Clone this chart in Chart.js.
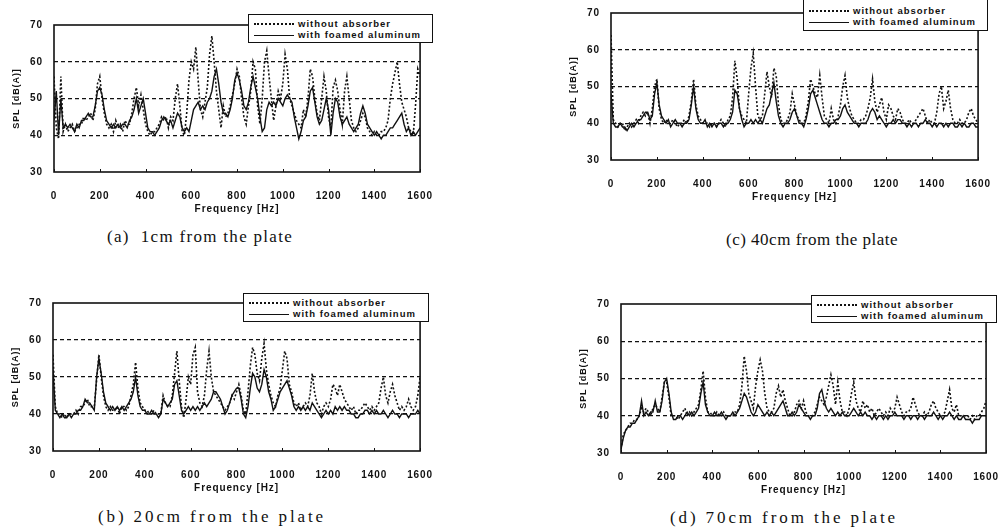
<!DOCTYPE html>
<html>
<head>
<meta charset="utf-8">
<script src="https://cdn.jsdelivr.net/npm/chart.js@4.4.1/dist/chart.umd.min.js"></script>
<style>
  body { margin: 0; width: 1005px; height: 532px; background: #fff; position: relative; overflow: hidden; }
  canvas { position: absolute; }
  .leg { position: absolute; border: 1.5px solid #111; background: #fff; box-sizing: border-box;
         font: bold 9.5px "Liberation Sans", Arial, sans-serif; letter-spacing: 1px; color: #111; }
  .row { position: absolute; left: 5px; height: 11px; line-height: 11px; white-space: nowrap; }
  .sw { display: inline-block; width: 40px; margin-right: 4px; vertical-align: middle; }
  .sw.dot { border-top: 2px dotted #111; }
  .sw.solid { border-top: 1.4px solid #111; }
  .cap { position: absolute; width: 360px; text-align: center; white-space: pre;
         font-family: "Liberation Serif", "Times New Roman", serif; color: #111; }
</style>
</head>
<body>
<script>
// frequency grid of the read-off spectra (Hz), 10 Hz apart
const freqs = Array.from({ length: 161 }, (_, i) => i * 10);
const xTicks = [0, 200, 400, 600, 800, 1000, 1200, 1400, 1600];
const yTicks = [30, 40, 50, 60, 70];
const seriesNames = ['without absorber', 'with foamed aluminum'];
const captions = ['(a)  1cm from the plate', '(b) 20cm from the plate', '(c) 40cm from the plate', '(d) 70cm from the plate'];

// (a) 1cm
const a_without = [
  56,42,39,56,41,43,41,42,43,41, 42,43,43,45,44,45,46,44,47,54,
  56,50,46,43,42,43,41,44,42,43, 41,44,43,43,46,50,53,48,51,47,
  43,41,40,41,41,42,43,45,44,45, 42,45,44,50,54,48,41,40,46,55,
  60,58,64,55,47,45,49,53,62,67, 60,52,47,42,48,45,46,48,51,54,
  58,56,50,45,43,48,52,60,58,48, 43,50,60,63,56,50,44,48,52,50,
  54,62,58,50,48,46,44,43,42,47, 45,50,58,56,50,46,44,50,56,52,
  45,42,53,55,52,47,43,52,56,50, 44,42,41,42,44,46,45,42,41,40,
  41,40,40,41,41,42,44,50,54,57, 60,54,49,47,45,42,41,40,48,58,
  56];
const a_with = [
  44,52,40,50,42,43,42,43,42,41, 43,42,44,44,45,46,45,45,48,52,
  53,51,47,44,43,42,43,42,43,42, 43,43,42,44,45,47,50,46,48,50,
  46,42,41,41,40,41,42,44,45,44, 43,44,42,44,46,45,42,41,42,41,
  44,47,48,49,47,48,47,49,50,52, 56,58,54,49,46,46,45,47,50,55,
  57,55,52,48,47,49,53,56,53,50, 45,41,42,47,49,48,49,48,50,49,
  48,50,51,50,49,45,42,39,41,44, 45,48,52,53,49,45,43,44,47,50,
  47,40,46,50,49,45,43,44,45,43, 42,41,42,43,46,48,46,43,42,41,
  40,41,40,39,40,40,41,42,42,43, 44,45,46,43,41,42,40,41,40,41,
  42];

// (b) 20cm
const b_without = [
  56,42,40,40,39,40,39,40,40,40, 41,40,42,42,43,44,42,42,42,49,
  56,50,45,42,41,42,41,41,42,40, 42,42,41,42,45,48,54,47,43,42,
  41,41,40,40,41,40,40,40,45,43, 42,42,45,51,57,49,42,39,44,50,
  48,56,58,46,43,42,45,52,57,50, 46,45,44,43,42,41,42,43,45,44,
  46,48,45,41,40,46,53,58,56,51, 49,55,59,52,48,45,43,42,45,47,
  52,57,55,48,46,43,42,43,41,42, 43,42,45,51,46,43,42,40,42,43,
  42,44,48,47,45,48,46,44,43,42, 41,42,40,41,41,42,43,42,41,42,
  41,42,43,47,50,45,43,46,48,45, 43,41,42,41,42,44,42,41,42,45,
  50];
const b_with = [
  52,41,40,39,40,39,39,40,39,40, 40,41,41,42,44,43,43,42,41,50,
  55,51,46,43,42,41,42,41,42,41, 42,41,42,43,44,46,50,45,42,41,
  41,40,40,41,40,40,39,40,44,43, 42,43,44,48,49,45,41,40,41,42,
  41,42,41,42,41,42,43,42,43,44, 46,46,45,44,42,40,41,43,45,46,
  47,47,44,40,39,42,47,51,50,47, 46,48,52,50,46,44,41,42,44,46,
  47,48,49,47,45,42,41,42,41,42, 41,42,41,43,42,41,40,39,40,41,
  40,41,40,42,41,42,41,42,41,41, 40,40,39,39,40,40,41,41,40,41,
  40,41,40,40,41,40,39,40,41,40, 40,39,40,40,40,39,40,40,40,41,
  40];

// (c) 40cm
const c_without = [
  64,41,40,39,40,40,38,39,40,39, 40,41,40,42,43,42,43,40,44,50,
  52,44,41,40,41,40,40,41,40,39, 40,40,41,40,42,46,52,45,42,41,
  40,40,40,39,40,40,39,40,41,40, 39,41,42,47,57,52,44,42,41,40,
  48,55,59,50,42,41,42,48,54,50, 47,55,53,45,41,40,40,41,43,48,
  45,42,41,40,40,42,46,52,50,48, 47,53,47,42,41,40,44,41,40,42,
  45,50,53,47,44,42,41,40,40,41, 41,42,44,47,52,46,43,45,47,43,
  41,45,44,42,41,44,43,41,40,40, 41,40,40,41,42,43,44,42,40,41,
  40,40,43,48,50,44,46,49,44,41, 40,40,41,40,40,41,43,44,42,41,
  40];
const c_with = [
  48,40,39,39,40,39,39,38,39,40, 39,40,41,41,42,43,43,41,42,48,
  51,45,42,41,40,41,39,40,41,40, 40,39,40,40,41,45,50,44,41,40,
  40,41,39,40,39,40,39,40,40,39, 40,40,41,43,49,48,44,41,39,40,
  40,41,40,41,40,41,40,42,44,45, 48,51,46,42,40,39,40,40,41,43,
  44,42,40,40,39,41,44,48,49,47, 45,43,41,40,40,39,40,40,41,41,
  42,44,45,43,42,41,40,40,39,40, 40,40,41,43,44,43,41,42,41,40,
  39,40,40,41,40,41,41,40,40,39, 40,39,40,40,39,40,40,41,40,40,
  39,40,39,40,40,39,40,39,40,40, 39,39,40,39,40,39,39,40,40,39,
  39];

// (d) 70cm
const d_without = [
  31,35,36,37,38,38,39,39,40,42, 41,42,41,40,42,43,42,41,45,49,
  49,45,40,40,40,39,40,41,42,40, 41,40,41,42,43,47,52,45,41,41,
  40,40,41,40,40,41,40,40,40,40, 41,41,43,48,56,52,46,44,42,48,
  52,55,52,46,42,41,41,42,46,48, 45,47,44,42,40,40,41,43,44,42,
  44,41,40,40,40,41,43,45,44,43, 45,48,51,48,43,49,44,41,41,40,
  42,46,49,44,42,41,44,42,43,41, 42,40,41,42,41,40,41,40,42,41,
  42,45,43,41,40,41,41,42,45,43, 41,40,40,41,40,41,43,44,42,41,
  40,40,41,44,47,42,41,43,40,40, 40,40,40,39,40,39,40,40,41,42,
  44];
const d_with = [
  31,34,36,37,37,38,38,39,40,44, 40,41,40,41,41,44,41,41,44,49,
  50,46,41,39,39,40,40,39,40,41, 40,41,40,41,42,46,49,43,41,40,
  40,41,40,40,41,40,39,40,40,41, 40,41,42,44,46,45,43,41,40,41,
  43,42,41,40,41,40,41,40,41,42, 43,44,42,40,40,41,40,41,43,42,
  41,40,40,39,40,40,42,46,47,44, 42,41,42,41,40,41,40,41,40,40,
  40,41,42,41,40,41,40,41,40,40, 39,40,39,40,40,39,40,39,40,40,
  41,40,40,40,39,40,40,39,40,40, 39,40,40,39,40,40,40,41,40,39,
  40,39,40,40,41,40,39,40,39,39, 40,39,39,39,38,39,39,39,40,40,
  40];

// plot-area rectangles, legend boxes and caption placement, in page pixels
const panels = [
  { without: a_without, withAl: a_with, L: 54,  T: 25,  R: 423, B: 172, leg: [248, 14, 185, 29], cap: [0, 200, 238, 17, 1.3] },
  { without: b_without, withAl: b_with, L: 53,  T: 303, R: 423, B: 451, leg: [243, 293, 186, 29], cap: [1, 212, 518, 17, 2.9] },
  { without: c_without, withAl: c_with, L: 611, T: 13,  R: 981, B: 160, leg: [803, -1, 185, 32], cap: [2, 812, 241, 17, 0.5] },
  { without: d_without, withAl: d_with, L: 621, T: 304, R: 989, B: 453, leg: [811, 295, 186, 28], cap: [3, 784, 519, 17, 2.9] }
];

const INK = '#111';
const AXW = 54, PADT = 25, PADR = 20, XH = 50;
const FONT = '"Liberation Sans", Arial, sans-serif';

const frame = {
  id: 'frame',
  beforeUpdate(chart) { chart.ctx.letterSpacing = '0.9px'; },
  beforeDraw(chart) { chart.ctx.letterSpacing = '0.9px'; },
  afterDraw(chart) {
    const { ctx, chartArea: a } = chart;
    const x = chart.scales.x;
    ctx.save();
    ctx.strokeStyle = INK;
    ctx.lineWidth = 1.6;
    ctx.strokeRect(a.left, a.top, a.right - a.left, a.bottom - a.top);
    ctx.lineWidth = 1;
    xTicks.forEach(v => {
      const px = Math.round(x.getPixelForValue(v)) + 0.5;
      ctx.beginPath();
      ctx.moveTo(px, a.bottom);
      ctx.lineTo(px, a.bottom - 3);
      ctx.stroke();
    });
    ctx.restore();
  }
};

function pts(vals) {
  return freqs.map((f, i) => ({ x: f, y: vals[i] }));
}

panels.forEach(p => {
  const cv = document.createElement('canvas');
  const w = (p.R - p.L) + AXW + PADR;
  const h = (p.B - p.T) + PADT + XH;
  cv.width = w;
  cv.height = h;
  cv.style.left = (p.L - AXW) + 'px';
  cv.style.top = (p.T - PADT) + 'px';
  cv.style.width = w + 'px';
  cv.style.height = h + 'px';
  document.body.appendChild(cv);

  new Chart(cv.getContext('2d'), {
    type: 'line',
    data: {
      datasets: [
        { label: seriesNames[0], data: pts(p.without), borderColor: INK, borderWidth: 1.6, borderDash: [2, 2], pointRadius: 0, tension: 0 },
        { label: seriesNames[1], data: pts(p.withAl), borderColor: INK, borderWidth: 1.4, pointRadius: 0, tension: 0 }
      ]
    },
    options: {
      responsive: false,
      animation: false,
      devicePixelRatio: 1,
      layout: { padding: { left: 0, top: PADT, right: PADR, bottom: 0 } },
      plugins: { legend: { display: false }, tooltip: { enabled: false } },
      scales: {
        x: {
          type: 'linear', min: 0, max: 1600,
          afterFit(s) { s.height = XH; },
          afterBuildTicks(s) { s.ticks = xTicks.map(v => ({ value: v })); },
          grid: { display: false },
          border: { display: false },
          ticks: { autoSkip: false, maxRotation: 0, padding: 10, color: INK,
                   callback: v => String(v),
                   font: { family: FONT, size: 10, weight: 'bold' } },
          title: { display: true, text: 'Frequency [Hz]', color: INK, padding: { top: 0, bottom: 7 },
                   font: { family: FONT, size: 10, weight: 'bold' } }
        },
        y: {
          min: 30, max: 70,
          afterFit(s) { s.width = AXW; },
          afterBuildTicks(s) { s.ticks = yTicks.map(v => ({ value: v })); },
          grid: {
            drawTicks: false,
            lineWidth: 1.3,
            color: c => (c.tick && c.tick.value > 30 && c.tick.value < 70) ? INK : 'rgba(0,0,0,0)'
          },
          border: { display: false, dash: [4, 3] },
          ticks: { padding: 11, color: INK, callback: v => String(v),
                   font: { family: FONT, size: 10, weight: 'bold' } },
          title: { display: true, text: 'SPL [dB(A)]', color: INK, padding: { top: 11, bottom: 0 },
                   font: { family: FONT, size: 9, weight: 'bold' } }
        }
      }
    },
    plugins: [frame]
  });

  // legend box
  const lg = document.createElement('div');
  lg.className = 'leg';
  lg.style.left = p.leg[0] + 'px';
  lg.style.top = p.leg[1] + 'px';
  lg.style.width = p.leg[2] + 'px';
  lg.style.height = p.leg[3] + 'px';
  const h2 = Math.round((p.leg[3] - 3) / 2);
  lg.innerHTML =
    '<div class="row" style="top:' + (h2 - 10) + 'px"><span class="sw dot"></span>' + seriesNames[0] + '</div>' +
    '<div class="row" style="top:' + (h2 + 1) + 'px"><span class="sw solid"></span>' + seriesNames[1] + '</div>';
  document.body.appendChild(lg);

  // caption
  const cp = document.createElement('div');
  cp.className = 'cap';
  cp.textContent = captions[p.cap[0]];
  cp.style.left = (p.cap[1] - 180) + 'px';
  cp.style.top = (p.cap[2] - 11) + 'px';
  cp.style.fontSize = p.cap[3] + 'px';
  cp.style.letterSpacing = p.cap[4] + 'px';
  document.body.appendChild(cp);
});
</script>
</body>
</html>
